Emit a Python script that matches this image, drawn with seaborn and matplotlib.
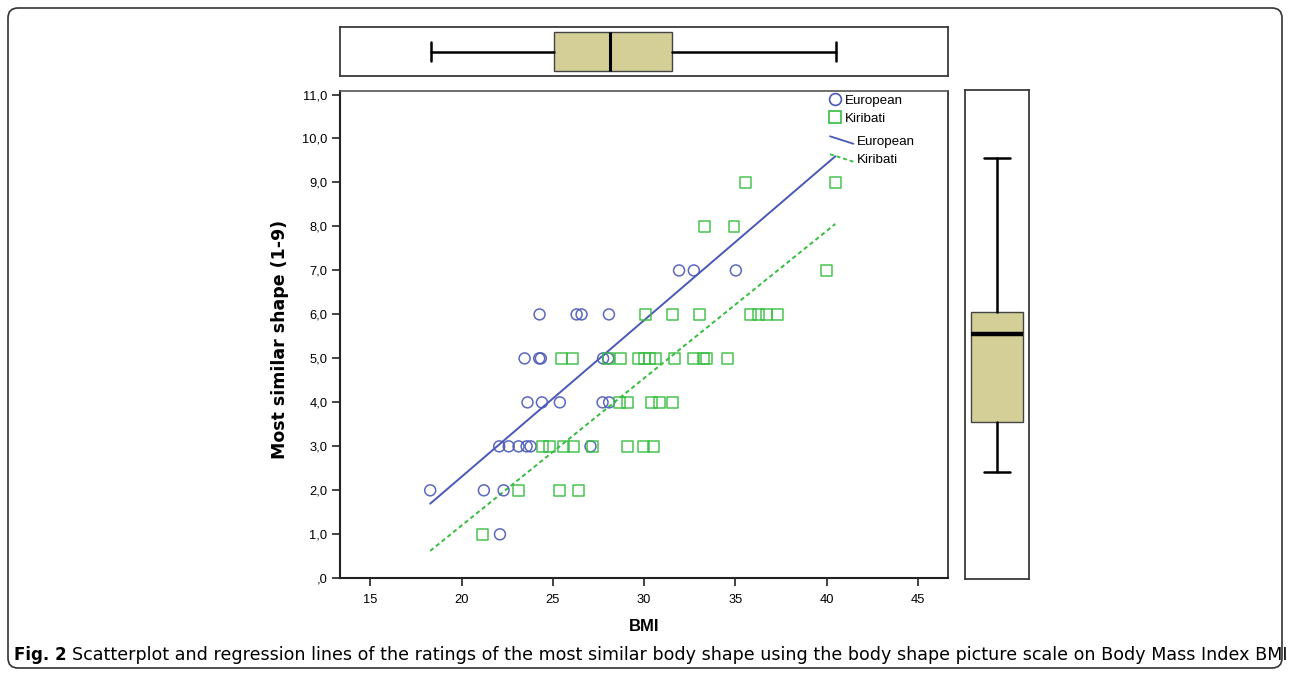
"""Scatterplot of body-shape rating on BMI with marginal boxplots (SPSS look)."""

import matplotlib

matplotlib.use("Agg")

import matplotlib.pyplot as plt  # noqa: E402
import numpy as np  # noqa: E402
import pandas as pd  # noqa: E402
import seaborn as sns  # noqa: E402
from matplotlib.legend_handler import HandlerBase  # noqa: E402
from matplotlib.lines import Line2D  # noqa: E402
from matplotlib.patches import FancyBboxPatch  # noqa: E402
from matplotlib.transforms import IdentityTransform  # noqa: E402

# ---- data ---------------------------------------------------------------
groups = ["European", "Kiribati"]

eur_bmi = [22.1,
           18.28, 21.22, 22.3,
           22.06, 22.58, 23.12, 23.56, 23.78, 27.06,
           23.61, 24.4, 25.38, 27.72, 28.08,
           23.45, 24.25, 24.34, 27.75, 28.03,
           24.27, 26.3, 26.57, 28.07,
           31.91, 32.72, 35.02]
eur_shape = [1,
             2, 2, 2,
             3, 3, 3, 3, 3, 3,
             4, 4, 4, 4, 4,
             5, 5, 5, 5, 5,
             6, 6, 6, 6,
             7, 7, 7]

kir_bmi = [21.13,
           23.12, 25.38, 26.4,
           24.42, 24.8, 25.56, 26.15, 27.17, 29.07, 29.94, 30.49,
           28.67, 29.09, 30.4, 30.86, 31.53,
           25.48, 26.06, 28.07, 28.72, 29.67, 30.0, 30.3, 30.6, 31.64, 32.68,
           33.23, 33.41, 34.54,
           30.07, 31.53, 33.05, 35.84, 36.27, 36.7, 37.28,
           40.01,
           33.28, 34.92,
           35.55, 40.47]
kir_shape = [1,
             2, 2, 2,
             3, 3, 3, 3, 3, 3, 3, 3,
             4, 4, 4, 4, 4,
             5, 5, 5, 5, 5, 5, 5, 5, 5, 5, 5, 5, 5,
             6, 6, 6, 6, 6, 6, 6,
             7,
             8, 8,
             9, 9]

# boxplot summaries as drawn (whisker low, Q1, median, Q3, whisker high)
bmi_box_stats = [18.3, 25.07, 28.11, 31.52, 40.48]
shape_box_stats = [2.42, 3.56, 5.55, 6.06, 9.53]

x_ticks = [15, 20, 25, 30, 35, 40, 45]
y_ticks = [0, 1, 2, 3, 4, 5, 6, 7, 8, 9, 10, 11]
y_tick_labels = [",0", "1,0", "2,0", "3,0", "4,0", "5,0", "6,0",
                 "7,0", "8,0", "9,0", "10,0", "11,0"]

caption_bold = "Fig. 2"
caption_text = ("Scatterplot and regression lines of the ratings of the most similar "
                "body shape using the body shape picture scale on Body Mass Index BMI")

# ---- style ----------------------------------------------------------------
BLUE = "#4a58b8"
GREEN = "#35bd3f"
TAN = "#d3cf97"
FRAME = "#3a3a3a"

W, H = 1290, 676
sns.set_style("white")
plt.rcParams["font.family"] = ["Liberation Sans", "DejaVu Sans"]
plt.rcParams.update({"text.color": "black", "axes.labelcolor": "black",
                     "xtick.color": "black", "ytick.color": "black"})

fig = plt.figure(figsize=(W / 100, H / 100), dpi=100)


def px_axes(left, top, right, bottom):
    """Add axes given pixel edges measured from the top-left corner."""
    return fig.add_axes([left / W, 1 - bottom / H, (right - left) / W, (bottom - top) / H])


class DiagonalLineHandler(HandlerBase):
    """SPSS style legend key: a short line running down to the right."""

    def create_artists(self, legend, orig_handle, xdescent, ydescent,
                       width, height, fontsize, trans):
        line = Line2D([-xdescent, -xdescent + width],
                      [-ydescent + height * 0.95, -ydescent + height * 0.15])
        line.update_from(orig_handle)
        line.set_transform(trans)
        return [line]


# ---- main scatter ---------------------------------------------------------
ax = px_axes(340, 91, 948, 578.3)

df = pd.DataFrame({
    "BMI": eur_bmi + kir_bmi,
    "shape": eur_shape + kir_shape,
    "group": [groups[0]] * len(eur_bmi) + [groups[1]] * len(kir_bmi),
})

markers = {"European": "o", "Kiribati": "s"}
colors = {"European": BLUE, "Kiribati": GREEN}
styles = {"European": "-", "Kiribati": (0, (2.2, 1.6))}

x_span = np.array([df["BMI"].min(), df["BMI"].max()])
for g in groups:
    sub = df[df["group"] == g]
    sns.scatterplot(data=sub, x="BMI", y="shape", marker=markers[g], color=colors[g],
                    facecolor="none", edgecolor=colors[g], s=62, linewidth=1.1,
                    alpha=0.9, ax=ax, legend=False, zorder=3)
    slope, intercept = np.polyfit(sub["BMI"], sub["shape"], 1)
    sns.lineplot(x=x_span, y=slope * x_span + intercept, color=colors[g],
                 linestyle=styles[g], linewidth=1.4, ax=ax, legend=False, zorder=2)

ax.set_xlim(13.34, 46.64)
ax.set_ylim(0, 11.08)
ax.set_xticks(x_ticks)
ax.set_yticks(y_ticks)
ax.set_yticklabels(y_tick_labels)
ax.tick_params(axis="both", which="major", direction="out", length=6, width=1.2,
               color="#222222", labelsize=9.3, pad=3, left=True, bottom=True)
ax.tick_params(axis="x", pad=5)
for side, sp in ax.spines.items():
    sp.set_color("#222222" if side in ("left", "bottom", "right") else "#555555")
    sp.set_linewidth(1.5 if side in ("left", "bottom") else 1.2)

ax.set_xlabel("BMI", fontsize=12, fontweight="bold")
ax.xaxis.set_label_coords(0.5, -0.083)
ax.set_ylabel("Most similar shape (1-9)", fontsize=12.5, fontweight="bold",
              family=["DejaVu Sans"])
ax.yaxis.set_label_coords(-0.084, 0.49)

# legend: markers, then fit lines with diagonal keys
point_handles = [Line2D([], [], ls="none", marker=markers[g], mfc="none",
                        mec=colors[g], ms=8.5, mew=1.2) for g in groups]
leg1 = ax.legend(point_handles, groups, loc="upper left", bbox_to_anchor=(0.806, 0.993),
                 frameon=False, fontsize=9.6, handlelength=0.8, handletextpad=0.3,
                 borderpad=0, borderaxespad=0, labelspacing=0.42)
ax.add_artist(leg1)
line_handles = [Line2D([], [], color=colors[g], linestyle=styles[g], lw=1.3) for g in groups]
ax.legend(line_handles, groups, loc="upper left", bbox_to_anchor=(0.806, 0.908),
          frameon=False, fontsize=9.6, handlelength=1.75, handletextpad=0.25,
          borderpad=0, borderaxespad=0, labelspacing=0.42,
          handler_map={Line2D: DiagonalLineHandler()})

# ---- marginal boxplots ----------------------------------------------------
box_kw = dict(patch_artist=True, showfliers=False,
              boxprops=dict(facecolor=TAN, edgecolor="#444444", linewidth=1.0),
              whiskerprops=dict(color="black", linewidth=1.8),
              capprops=dict(color="black", linewidth=1.8))


def stats_dict(vals):
    lo, q1, med, q3, hi = vals
    return dict(whislo=lo, q1=q1, med=med, q3=q3, whishi=hi)


ax_top = px_axes(340, 27, 948, 76)
ax_top.bxp([stats_dict(bmi_box_stats)], positions=[0], widths=0.82, capwidths=0.4,
           orientation="horizontal", medianprops=dict(color="black", linewidth=2.2),
           **box_kw)
ax_top.set_xlim(ax.get_xlim())
ax_top.set_ylim(-0.52, 0.52)

ax_right = px_axes(965, 90, 1029, 579)
ax_right.bxp([stats_dict(shape_box_stats)], positions=[0], widths=0.81, capwidths=0.4,
             medianprops=dict(color="black", linewidth=3.2), **box_kw)
ax_right.set_ylim(ax.get_ylim())
ax_right.set_xlim(-0.5, 0.5)

for bax in (ax_top, ax_right):
    bax.set_xticks([])
    bax.set_yticks([])
    bax.set_xlabel("")
    bax.set_ylabel("")
    for sp in bax.spines.values():
        sp.set_color(FRAME)
        sp.set_linewidth(1.3)

# ---- outer frame and caption ----------------------------------------------
frame = FancyBboxPatch((8, 8), 1274, 660, boxstyle="round,pad=0,rounding_size=10",
                       transform=IdentityTransform(), fill=False, edgecolor="#333333",
                       linewidth=1.2)
fig.patches.append(frame)

cap_family = ["Liberation Sans Narrow", "DejaVu Sans"]
t_bold = fig.text(14 / W, 1 - 655 / H, caption_bold, fontsize=12, fontweight="bold",
                  va="center", ha="left", family=cap_family)
fig.canvas.draw()
bb = t_bold.get_window_extent()
start = bb.x1 + 5
t_rest = fig.text(start / W, 1 - 655 / H, caption_text, fontsize=12, va="center",
                  ha="left", family=cap_family)
fig.canvas.draw()
width = t_rest.get_window_extent().width
t_rest.set_fontsize(12 * (1277 - start) / width)

fig.savefig("out.png", dpi=100)
